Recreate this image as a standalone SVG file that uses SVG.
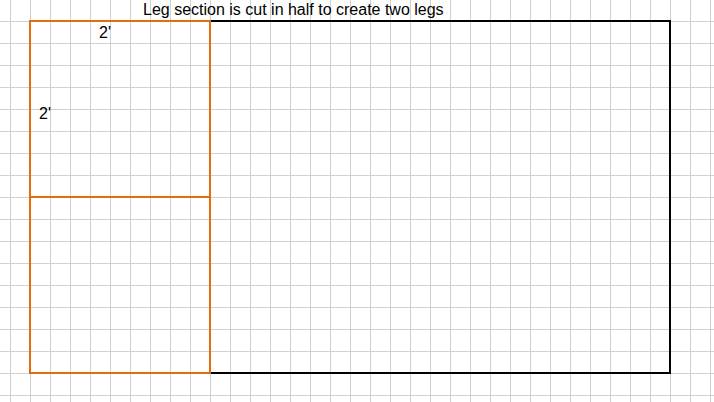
<svg xmlns="http://www.w3.org/2000/svg" width="714" height="402" viewBox="0 0 714 402">
<style>
.grid{stroke:#d0d0d0;stroke-width:1;fill:none}
.leg{stroke:#e46c0a;stroke-width:2;fill:none}
.top{stroke:#000;stroke-width:2;fill:none}
text{font-family:"Liberation Sans",Arial,sans-serif;font-size:16px;fill:#000}
</style>
<rect width="714" height="402" fill="#fff"/>
<path class="grid" d="M10.5 0V402M30.5 0V402M50.5 0V402M70.5 0V402M90.5 0V402M110.5 0V402M130.5 0V402M150.5 0V402M170.5 0V402M190.5 0V402M210.5 0V402M230.5 0V402M250.5 0V402M270.5 0V402M290.5 0V402M310.5 0V402M330.5 0V402M350.5 0V402M370.5 0V402M390.5 0V402M410.5 0V402M430.5 0V402M450.5 0V402M470.5 0V402M490.5 0V402M510.5 0V402M530.5 0V402M550.5 0V402M570.5 0V402M590.5 0V402M610.5 0V402M630.5 0V402M650.5 0V402M670.5 0V402M690.5 0V402M710.5 0V402M0 21.5H714M0 43.5H714M0 65.5H714M0 87.5H714M0 109.5H714M0 131.5H714M0 153.5H714M0 175.5H714M0 197.5H714M0 219.5H714M0 241.5H714M0 263.5H714M0 285.5H714M0 307.5H714M0 329.5H714M0 351.5H714M0 373.5H714M0 395.5H714"/>
<g id="connectors">
<path id="table-top" class="top" d="M210 21H670V373H210"/>
</g>
<g id="leg-section">
<rect class="leg" x="30" y="21" width="180" height="352"/>
<line class="leg" x1="30" y1="197" x2="210" y2="197"/>
</g>
<g id="labels">
<text x="143" y="15">Leg section is cut in half to create two legs</text>
<text x="99" y="38">2'</text>
<text x="39" y="119">2'</text>
</g>
</svg>
